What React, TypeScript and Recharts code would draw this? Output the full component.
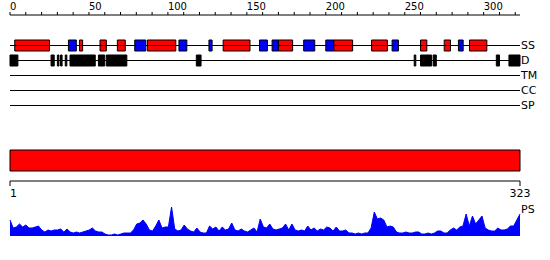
import {
  ComposedChart,
  AreaChart,
  Area,
  XAxis,
  YAxis,
  ReferenceArea,
  ReferenceLine
} from "recharts";

const SEQ_LENGTH = 323;

// secondary structure segments [start, end]
const helixSegments = [
  [3, 25], [44, 46], [57, 61], [68, 73], [87, 105], [135, 152], [170, 179],
  [205, 217], [229, 239], [260, 264], [275, 279], [291, 302]
];
const strandSegments = [
  [37, 42], [79, 86], [107, 112], [126, 128], [158, 163], [166, 170],
  [186, 193], [200, 205], [242, 246], [284, 287]
];
const disorderSegments = [
  [0, 5], [26, 28], [30, 31], [32, 33], [35, 36], [38, 54], [56, 60], [61, 74],
  [118, 121], [256, 257], [260, 267], [268, 270], [308, 310], [316, 323]
];
const domainSegments = [[1, 323]];
const emptyTracks = ["TM", "CC", "SP"];

const topTicks = [0, 10, 20, 30, 40, 50, 60, 70, 80, 90, 100, 110, 120, 130, 140, 150, 160,
  170, 180, 190, 200, 210, 220, 230, 240, 250, 260, 270, 280, 290, 300, 310, 320];
const bottomTicks = [1, 323];

// PS profile, every second residue starting at 1
const psValues = [
  16, 8, 9, 12, 9, 11, 8, 8, 9, 10, 6, 4, 6, 5, 6, 6, 7, 4, 7, 4,
  3, 4, 3, 4, 5, 6, 8, 5, 4, 4, 2, 1, 1, 2, 1, 2, 3, 3, 3, 6,
  12, 13, 16, 12, 6, 5, 10, 16, 8, 9, 9, 29, 7, 5, 6, 11, 7, 5, 4, 8,
  4, 3, 3, 10, 7, 9, 5, 9, 6, 7, 13, 6, 5, 7, 5, 4, 6, 8, 4, 17,
  9, 8, 12, 7, 6, 7, 8, 12, 6, 12, 6, 5, 6, 5, 10, 6, 8, 5, 7, 6,
  9, 8, 5, 9, 5, 5, 6, 3, 3, 2, 3, 2, 3, 3, 8, 24, 17, 18, 16, 9,
  10, 9, 4, 3, 3, 4, 3, 3, 4, 4, 2, 2, 3, 2, 3, 5, 5, 3, 3, 6,
  8, 6, 9, 10, 22, 10, 20, 12, 16, 20, 8, 6, 5, 5, 8, 6, 6, 7, 10, 10,
  16, 22
];

const psData = psValues.map((v, i) => ({ pos: 1 + i * 2, ps: v }));
const seqEnds = [{ pos: 0 }, { pos: SEQ_LENGTH }];

const FONT = "'DejaVu Sans', sans-serif";

// vertical layout of tracks inside the upper plot (px from plot top)
const SS_Y = 30.5;
const D_Y = 45.5;
const EMPTY_Y = [60.5, 75.5, 90.5];
const BOX_HALF = 5.5;

function TopTick(props: any) {
  const { x, y, payload } = props;
  if (payload.value % 50 !== 0) return null;
  return (
    <text x={x} y={y} textAnchor="start" fontSize={10} fontFamily={FONT} fill="#000">
      {payload.value}
    </text>
  );
}

function BottomTick(props: any) {
  const { x, y, payload } = props;
  return (
    <text x={x} y={y + 9} textAnchor={payload.value === 1 ? "start" : "middle"} fontSize={11} fontFamily={FONT} fill="#000">
      {payload.value}
    </text>
  );
}

function box(seg: number[], fill: string, y: number, key: string) {
  return (
    <ReferenceArea
      key={key}
      xAxisId="top"
      yAxisId="rows"
      x1={seg[0]}
      x2={seg[1]}
      y1={y - BOX_HALF}
      y2={y + BOX_HALF}
      fill={fill}
      fillOpacity={1}
      stroke="#000"
      strokeWidth={1}
      ifOverflow="visible"
    />
  );
}

export default function App() {
  return (
    <div style={{ position: "absolute", left: 0, top: 0, width: 550, height: 260, background: "#fff" }}>
      <div style={{ position: "absolute", left: 0, top: 0 }}>
        <ComposedChart width={550} height={206} data={seqEnds} margin={{ top: 0, right: 30, left: 10, bottom: 0 }}>
          <XAxis
            xAxisId="top"
            dataKey="pos"
            orientation="top"
            type="number"
            domain={[0, SEQ_LENGTH]}
            ticks={topTicks}
            height={15}
            tickSize={3}
            stroke="#000"
            tick={<TopTick />}
            interval={0}
            allowDataOverflow
          />
          <XAxis
            xAxisId="seq"
            dataKey="pos"
            orientation="bottom"
            type="number"
            domain={[1, SEQ_LENGTH]}
            ticks={bottomTicks}
            height={25}
            tickSize={5}
            stroke="#000"
            tick={<BottomTick />}
            interval={0}
            allowDataOverflow
          />
          <YAxis yAxisId="rows" type="number" domain={[0, 166]} reversed hide allowDataOverflow />

          <ReferenceLine xAxisId="top" yAxisId="rows" y={SS_Y} stroke="#000"
            label={{ value: "SS", position: "right", offset: 1, fontSize: 11, fontFamily: FONT, fill: "#000" }} />
          <ReferenceLine xAxisId="top" yAxisId="rows" y={D_Y} stroke="#000"
            label={{ value: "D", position: "right", offset: 1, fontSize: 11, fontFamily: FONT, fill: "#000" }} />
          {emptyTracks.map((name, i) => (
            <ReferenceLine key={name} xAxisId="top" yAxisId="rows" y={EMPTY_Y[i]} stroke="#000"
              label={{ value: name, position: "right", offset: 1, fontSize: 11, fontFamily: FONT, fill: "#000" }} />
          ))}

          {helixSegments.map((s, i) => box(s, "#ff0000", SS_Y, "h" + i))}
          {strandSegments.map((s, i) => box(s, "#0000ff", SS_Y, "e" + i))}
          {disorderSegments.map((s, i) => box(s, "#000000", D_Y, "d" + i))}

          {domainSegments.map((s, i) => (
            <ReferenceArea
              key={"dom" + i}
              xAxisId="seq"
              yAxisId="rows"
              x1={s[0]}
              x2={s[1]}
              y1={135}
              y2={156}
              fill="#ff0000"
              fillOpacity={1}
              stroke="#000"
              strokeWidth={1}
              ifOverflow="visible"
            />
          ))}
        </ComposedChart>
      </div>

      <div style={{ position: "absolute", left: 0, top: 206 }}>
        <AreaChart width={550} height={30} data={psData} margin={{ top: 0, right: 30, left: 10, bottom: 0 }}>
          <XAxis dataKey="pos" type="number" domain={[1, SEQ_LENGTH]} hide />
          <YAxis type="number" domain={[0, 30]} hide allowDataOverflow />
          <Area
            type="linear"
            dataKey="ps"
            stroke="#0000ff"
            strokeWidth={1}
            fill="#0000ff"
            fillOpacity={1}
            isAnimationActive={false}
            dot={false}
            activeDot={false}
          />
        </AreaChart>
      </div>

      <div style={{ position: "absolute", left: 521, top: 204, fontSize: 11, lineHeight: "11px", fontFamily: FONT, color: "#000" }}>
        PS
      </div>
    </div>
  );
}
